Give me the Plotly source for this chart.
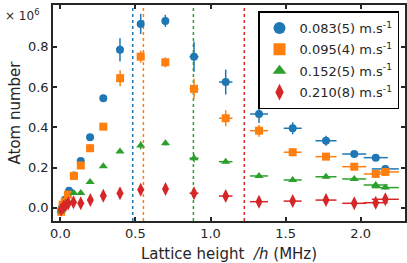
import plotly.graph_objects as go

# ---- data ----
labels = ["0.083(5) m.s<sup>-1</sup>", "0.095(4) m.s<sup>-1</sup>",
          "0.152(5) m.s<sup>-1</sup>", "0.210(8) m.s<sup>-1</sup>"]
colors = ["#1f77b4", "#ff7f0e", "#2ca02c", "#d62728"]
symbols = ["circle", "square", "triangle-up", "diamond-tall"]

x_blue = [0.01, 0.03, 0.058, 0.09, 0.136, 0.198, 0.286, 0.397, 0.535, 0.699, 0.89, 1.101, 1.323, 1.547, 1.769, 1.957, 2.10, 2.164]
y_blue = [0.00, 0.04, 0.085, 0.16, 0.232, 0.350, 0.544, 0.785, 0.914, 0.929, 0.751, 0.625, 0.466, 0.395, 0.333, 0.267, 0.249, 0.193]
ey_blue = [0.005, 0.005, 0.01, 0.01, 0.015, 0.01, 0.01, 0.058, 0.05, 0.03, 0.075, 0.062, 0.045, 0.03, 0.025, 0.015, 0.015, 0.01]
ex_blue = [0.005, 0.005, 0.005, 0.005, 0.005, 0.005, 0.005, 0.005, 0.005, 0.01, 0.03, 0.045, 0.06, 0.06, 0.07, 0.08, 0.08, 0.09]

x_orange = [0.005, 0.015, 0.03, 0.05, 0.09, 0.136, 0.198, 0.286, 0.398, 0.535, 0.699, 0.89, 1.101, 1.323, 1.547, 1.769, 1.957, 2.10, 2.164]
y_orange = [-0.02, 0.015, 0.03, 0.065, 0.158, 0.21, 0.296, 0.403, 0.644, 0.751, 0.723, 0.591, 0.445, 0.383, 0.276, 0.254, 0.204, 0.168, 0.178]
ey_orange = [0.005, 0.005, 0.005, 0.01, 0.01, 0.01, 0.02, 0.01, 0.04, 0.03, 0.025, 0.05, 0.04, 0.03, 0.02, 0.015, 0.01, 0.01, 0.02]
ex_orange = [0.005, 0.005, 0.005, 0.005, 0.005, 0.005, 0.005, 0.005, 0.005, 0.005, 0.01, 0.03, 0.045, 0.06, 0.06, 0.07, 0.08, 0.08, 0.09]

x_green = [0.005, 0.02, 0.05, 0.09, 0.136, 0.198, 0.286, 0.397, 0.535, 0.70, 0.89, 1.101, 1.323, 1.547, 1.769, 1.957, 2.10, 2.164]
y_green = [-0.015, 0.0, 0.03, 0.073, 0.073, 0.128, 0.206, 0.280, 0.310, 0.320, 0.246, 0.229, 0.158, 0.138, 0.154, 0.143, 0.113, 0.100]
ey_green = [0.005, 0.005, 0.005, 0.005, 0.005, 0.005, 0.005, 0.005, 0.02, 0.01, 0.02, 0.01, 0.01, 0.01, 0.01, 0.01, 0.01, 0.01]
ex_green = [0.005, 0.005, 0.005, 0.005, 0.005, 0.005, 0.005, 0.005, 0.005, 0.01, 0.03, 0.045, 0.06, 0.06, 0.07, 0.08, 0.08, 0.09]

x_red = [0.005, 0.02, 0.035, 0.053, 0.087, 0.136, 0.20, 0.286, 0.397, 0.535, 0.70, 0.89, 1.101, 1.323, 1.547, 1.769, 1.957, 2.10, 2.164]
y_red = [-0.01, 0.005, 0.012, 0.022, 0.027, 0.022, 0.038, 0.060, 0.072, 0.090, 0.093, 0.072, 0.058, 0.030, 0.033, 0.038, 0.022, 0.025, 0.042]
ey_red = [0.01, 0.01, 0.01, 0.01, 0.015, 0.015, 0.015, 0.015, 0.015, 0.015, 0.015, 0.02, 0.015, 0.015, 0.015, 0.015, 0.015, 0.015, 0.02]
ex_red = [0.005, 0.005, 0.005, 0.005, 0.005, 0.005, 0.005, 0.005, 0.005, 0.005, 0.01, 0.03, 0.045, 0.06, 0.06, 0.07, 0.08, 0.08, 0.09]

threshold_heights = [0.482, 0.553, 0.886, 1.225]

x_tick_vals = [0.0, 0.5, 1.0, 1.5, 2.0]
x_tick_text = ["0.0", "0.5", "1.0", "1.5", "2.0"]
y_tick_vals = [0.0, 0.2, 0.4, 0.6, 0.8]
y_tick_text = ["0.0", "0.2", "0.4", "0.6", "0.8"]

series = [
    (x_blue, y_blue, ex_blue, ey_blue),
    (x_orange, y_orange, ex_orange, ey_orange),
    (x_green, y_green, ex_green, ey_green),
    (x_red, y_red, ex_red, ey_red),
]
sizes = [8, 8, 8, 10]

FONT = "DejaVu Sans"
fig = go.Figure()

for i, (xs, ys, exs, eys) in enumerate(series):
    fig.add_trace(go.Scatter(
        x=xs, y=ys, mode="markers", name=labels[i], legendgroup=f"g{i}",
        marker=dict(color=colors[i], symbol=symbols[i], size=sizes[i], line=dict(width=0)),
        error_x=dict(type="data", array=exs, color=colors[i], thickness=1.5, width=0),
        error_y=dict(type="data", array=eys, color=colors[i], thickness=1.5, width=0),
    ))

for i, xv in enumerate(threshold_heights):
    fig.add_shape(type="line", xref="x", yref="paper", x0=xv, x1=xv, y0=0, y1=1,
                  line=dict(color=colors[i], width=1.5, dash="dot"), layer="below")

axis_common = dict(showline=True, linecolor="#262626", linewidth=1.5, mirror="ticks",
                   ticks="inside", ticklen=4, tickwidth=1.5, tickcolor="#262626",
                   showgrid=False, zeroline=False, automargin=False,
                   tickfont=dict(family=FONT, size=13, color="#262626"))

fig.update_layout(
    width=407, height=263,
    margin=dict(l=53, r=2, t=5, b=42),
    paper_bgcolor="white", plot_bgcolor="white",
    font=dict(family=FONT, color="#262626"),
    xaxis=dict(range=[-0.049, 2.295], tickvals=x_tick_vals, ticktext=x_tick_text,
               title=dict(text="Lattice height  <i>/h</i> (MHz)", font=dict(family=FONT, size=15), standoff=9),
               **axis_common),
    yaxis=dict(range=[-0.066, 1.008], tickvals=y_tick_vals, ticktext=y_tick_text,
               title=dict(text="Atom number", font=dict(family=FONT, size=15), standoff=4),
               **axis_common),
    legend=dict(x=0.983, y=0.97, xanchor="right", yanchor="top",
                bordercolor="black", borderwidth=1.5, bgcolor="white",
                font=dict(family=FONT, size=13, color="#262626"),
                itemsizing="constant", itemwidth=30, tracegroupgap=1.5),
    showlegend=True,
)

fig.add_annotation(text="× 10<sup>6</sup>", xref="paper", yref="paper", x=0, y=1,
                   xanchor="right", yanchor="middle", xshift=-12, yshift=-10,
                   showarrow=False, font=dict(family=FONT, size=12, color="#262626"))

fig.write_html("out.html", config={"displayModeBar": False},
               post_script="document.body.style.margin='0';document.body.style.overflow='hidden';")
